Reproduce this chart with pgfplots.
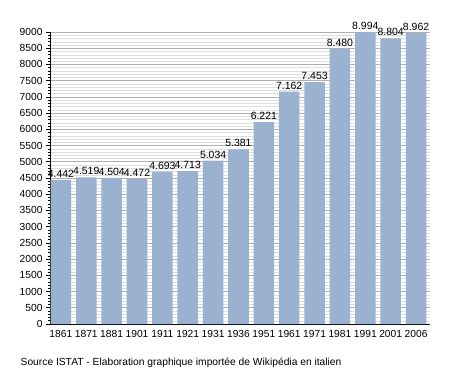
\documentclass[border=0pt]{standalone}
\usepackage{fontspec}
\setmainfont{Liberation Sans}
\usepackage{pgfplots}
\pgfplotsset{compat=1.18}
\definecolor{barblue}{RGB}{154,178,207}
\definecolor{majgrid}{RGB}{175,175,175}
\definecolor{mingrid}{RGB}{222,222,222}
\begin{document}
\begin{tikzpicture}
\useasboundingbox (-50bp,-49bp) rectangle (405bp,324bp);
\begin{axis}[
  scale only axis,
  width=380bp, height=292bp,
  at={(0,0)}, anchor=south west,
  xmin=-0.43, xmax=14.55,
  ymin=0, ymax=9000,
  ytick distance=500,
  minor y tick num=4,
  xtick=data,
  xticklabels={1861,1871,1881,1901,1911,1921,1931,1936,1951,1961,1971,1981,1991,2001,2006},
  axis x line*=bottom,
  axis y line*=left,
  tick align=outside,
  major tick length=4bp,
  minor tick length=2bp,
  x tick style={draw=none},
  ymajorgrids, yminorgrids,
  major grid style={majgrid, line width=0.6pt},
  minor grid style={mingrid, line width=0.4pt},
  axis line style={black, line width=0.8pt},
  tick style={black, line width=0.6pt},
  tick label style={font=\fontsize{10.3}{12}\selectfont},
  /pgf/number format/assume math mode=true,
  y tick label style={/pgf/number format/1000 sep={}},
  xticklabel style={yshift=1bp},
  ybar, bar width=0.81,
  nodes near coords,
  every node near coord/.append style={font=\fontsize{10.5}{12}\selectfont, /pgf/number format/1000 sep={.}, /pgf/number format/assume math mode=true, yshift=-1bp},
]
\addplot[fill=barblue, draw=none] coordinates {
(0,4442) (1,4519) (2,4504) (3,4472) (4,4693) (5,4713) (6,5034) (7,5381)
(8,6221) (9,7162) (10,7453) (11,8480) (12,8994) (13,8804) (14,8962)
};
\end{axis}
\node[anchor=base west, font=\fontsize{10.3}{12}\selectfont, inner sep=0] at (-29.5bp,-41bp) {Source ISTAT - Elaboration graphique importée de Wikipédia en italien};
\end{tikzpicture}
\end{document}
